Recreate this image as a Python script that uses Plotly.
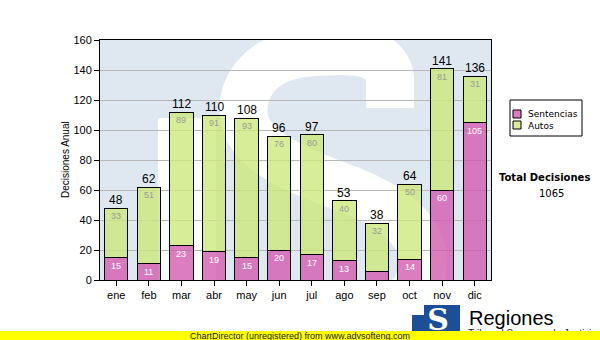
import plotly.graph_objects as go

# ---- data -------------------------------------------------------------
months = ["ene", "feb", "mar", "abr", "may", "jun",
          "jul", "ago", "sep", "oct", "nov", "dic"]
sentencias = [15, 11, 23, 19, 15, 20, 17, 13, 6, 14, 60, 105]
autos = [33, 51, 89, 91, 93, 76, 80, 40, 32, 50, 81, 31]
y_ticks = [0, 20, 40, 60, 80, 100, 120, 140, 160]

totals = [s + a for s, a in zip(sentencias, autos)]
grand_total = sum(totals)

# ---- style ------------------------------------------------------------
W, H = 600, 340
PLOT_L, PLOT_R, PLOT_T, PLOT_B = 100, 491, 40, 280
SENT_COLOR = "rgba(210, 88, 174, 0.78)"
AUTO_COLOR = "rgba(204, 232, 122, 0.78)"
BG_BLUE = "#dfe8f1"
SANS = "Liberation Sans, Arial, sans-serif"
VERD = "DejaVu Sans, Verdana, sans-serif"
X_RANGE = (-0.5, len(months) - 0.5)
Y_RANGE = (0, 160)


def px(x):
    """figure pixel x -> paper fraction"""
    return x / W


def py(y):
    """figure pixel y (from top) -> paper fraction"""
    return 1 - y / H


def dx(x):
    """figure pixel x -> main x-axis data value"""
    return X_RANGE[0] + (x - PLOT_L) / (PLOT_R - PLOT_L) * (X_RANGE[1] - X_RANGE[0])


def dy(y):
    """figure pixel y -> main y-axis data value"""
    return (PLOT_B - y) / (PLOT_B - PLOT_T) * (Y_RANGE[1] - Y_RANGE[0])


def path(cmds):
    out = []
    for c in cmds:
        op, pts = c[0], c[1:]
        out.append(op + " " + " ".join(f"{dx(a):.4f},{dy(b):.4f}" for a, b in pts))
    return " ".join(out)


x_idx = list(range(len(months)))
fig = go.Figure()

fig.add_bar(x=x_idx, y=sentencias, name="Sentencias", width=0.715,
            marker=dict(color=SENT_COLOR, line=dict(color="black", width=1)),
            hoverinfo="skip")
fig.add_bar(x=x_idx, y=autos, name="Autos", width=0.715,
            marker=dict(color=AUTO_COLOR, line=dict(color="black", width=1)),
            hoverinfo="skip")

# auxiliary full-canvas axes for footer text that sits beneath the banner
fig.add_scatter(x=[468], y=[334.5], mode="text", text=["Tribunal Supremo de Justicia"],
                textposition="middle right",
                textfont=dict(family=SANS, size=10, color="#222"),
                xaxis="x2", yaxis="y2", showlegend=False, hoverinfo="skip")
fig.add_scatter(x=[438], y=[322], mode="text", text=["<b>S</b>"],
                textposition="middle center",
                textfont=dict(family="DejaVu Serif, serif", size=30, color="white"),
                xaxis="x2", yaxis="y2", showlegend=False, hoverinfo="skip")

# ---- annotations ------------------------------------------------------
ann = []
for i in x_idx:
    ann.append(dict(x=i, y=totals[i], text=str(totals[i]), showarrow=False,
                    xanchor="center", yanchor="bottom", yshift=-1,
                    font=dict(family=SANS, size=12, color="black")))
    ann.append(dict(x=i, y=totals[i], text=str(autos[i]), showarrow=False,
                    xanchor="center", yanchor="top", yshift=-1,
                    font=dict(family=SANS, size=9, color="#9a9a9a")))
    if sentencias[i] >= 9:
        ann.append(dict(x=i, y=sentencias[i], text=str(sentencias[i]), showarrow=False,
                        xanchor="center", yanchor="top", yshift=-1,
                        font=dict(family=SANS, size=9, color="white")))


def note(x, y, text, font, xanchor="center", yanchor="middle", **kw):
    return dict(x=px(x), y=py(y), text=text, xref="paper", yref="paper",
                showarrow=False, xanchor=xanchor, yanchor=yanchor, font=font, **kw)


ann += [
    note(65, 160, "Decisiones Anual", dict(family=SANS, size=10, color="black"),
         textangle=-90),
    note(526, 114, "Sentencias", dict(family=VERD, size=9, color="black"), xanchor="left"),
    note(526, 125.5, "Autos", dict(family=VERD, size=9, color="black"), xanchor="left"),
    note(544, 177, "<b>Total Decisiones</b>", dict(family=VERD, size=10, color="black")),
    note(551, 193, str(grand_total), dict(family=VERD, size=10, color="black")),
    note(467, 318, "Regiones", dict(family=SANS, size=20, color="black"), xanchor="left"),
    note(300, 335.5, "ChartDirector (unregistered) from www.advsofteng.com",
         dict(family=SANS, size=9, color="#222")),
]

# ---- shapes -----------------------------------------------------------
data_ref = dict(xref="x", yref="y", layer="below")
shapes = [
    # plot-area background
    dict(type="rect", x0=X_RANGE[0], x1=X_RANGE[1], y0=Y_RANGE[0], y1=Y_RANGE[1],
         fillcolor=BG_BLUE, line=dict(width=0), **data_ref),
    # watermark letter: beak and stroke
    dict(type="rect", x0=dx(158), x1=dx(216), y0=dy(118), y1=dy(300),
         fillcolor="white", line=dict(width=0), **data_ref),
    dict(type="path",
         path=path([("M", (390, 108)), ("L", (390, 78)),
                    ("C", (385, 45), (340, 50), (305, 53)),
                    ("C", (262, 58), (240, 85), (244, 118)),
                    ("C", (250, 152), (300, 172), (350, 190)),
                    ("C", (400, 210), (428, 235), (422, 272)),
                    ("C", (416, 305), (380, 322), (330, 327))]),
         line=dict(color="white", width=48), **data_ref),
    # legend
    dict(type="rect", xref="paper", yref="paper", x0=px(510), x1=px(582),
         y0=py(136), y1=py(100), fillcolor="white", line=dict(color="black", width=1)),
    dict(type="rect", xref="paper", yref="paper", x0=px(513), x1=px(521),
         y0=py(118), y1=py(110), fillcolor=SENT_COLOR, line=dict(color="black", width=1)),
    dict(type="rect", xref="paper", yref="paper", x0=px(513), x1=px(521),
         y0=py(129), y1=py(121), fillcolor=AUTO_COLOR, line=dict(color="black", width=1)),
    # footer logo block
    dict(type="rect", xref="paper", yref="paper", x0=px(412), x1=px(460),
         y0=py(340), y1=py(305), fillcolor="#1c4f95", line=dict(width=0), layer="below"),
    dict(type="rect", xref="paper", yref="paper", x0=px(412), x1=px(424),
         y0=py(315), y1=py(305), fillcolor="white", line=dict(width=0), layer="below"),
    # banner
    dict(type="rect", xref="paper", yref="paper", x0=0, x1=1, y0=0, y1=py(331),
         fillcolor="#ffff00", line=dict(width=0), layer="above"),
]

fig.update_layout(
    width=W, height=H, margin=dict(l=0, r=0, t=0, b=0, autoexpand=False),
    paper_bgcolor="white", plot_bgcolor="rgba(0,0,0,0)",
    barmode="stack", showlegend=False,
    annotations=ann, shapes=shapes,
    xaxis=dict(domain=[px(PLOT_L), px(PLOT_R)], range=list(X_RANGE),
               tickvals=x_idx, ticktext=months, ticks="outside", ticklen=5,
               tickcolor="black", showline=True, linecolor="black", linewidth=1,
               mirror=True, showgrid=False, zeroline=False, anchor="y",
               tickfont=dict(family=SANS, size=11, color="black")),
    yaxis=dict(domain=[py(PLOT_B), py(PLOT_T)], range=list(Y_RANGE),
               tickvals=y_ticks, ticks="outside", ticklen=5, tickcolor="black",
               showline=True, linecolor="black", linewidth=1, mirror=True,
               showgrid=True, gridcolor="#b8b8b8", gridwidth=1, zeroline=False,
               anchor="x", tickfont=dict(family=SANS, size=11, color="black")),
    xaxis2=dict(domain=[0, 1], range=[0, W], visible=False, anchor="y2",
                fixedrange=True),
    yaxis2=dict(domain=[0, 1], range=[H, 0], visible=False, anchor="x2",
                fixedrange=True),
)

fig.write_html("out.html")
